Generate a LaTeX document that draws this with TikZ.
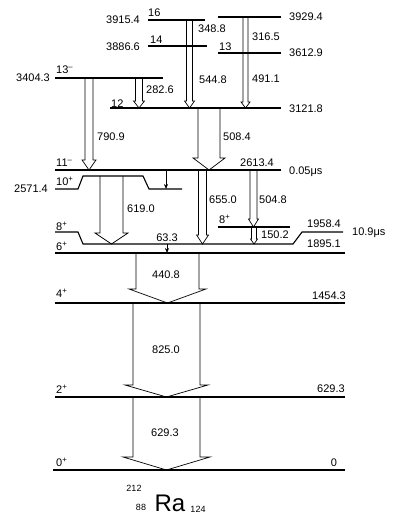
\documentclass[tikz,border=0pt]{standalone}
\usepackage{fontspec}
\setmainfont{Liberation Sans}
\usetikzlibrary{arrows.meta}
\tikzset{
  lev/.style={line width=1.1pt, line join=miter},
  garrow/.style={line width=0.7pt, line join=miter},
  lbl/.style={inner sep=0pt, font=\fontsize{11}{12}\selectfont},
}
\newcommand{\gamarrow}[6]{%
  \draw[garrow] ({#1-#4},#2) -- ({#1-#4},{#3-#6}) -- ({#1-#4-#5},{#3-#6}) -- (#1,#3)
    -- ({#1+#4+#5},{#3-#6}) -- ({#1+#4},{#3-#6}) -- ({#1+#4},#2);}
\begin{document}
\begin{tikzpicture}[x=1pt,y=-1pt]
\useasboundingbox (0,0) rectangle (392,518);
% levels
\draw[lev] (218,17) -- (281,17);
\draw[lev] (148,20) -- (205,20);
\draw[lev] (148,46) -- (207,46);
\draw[lev] (218,53) -- (281,53);
\draw[lev] (55,78) -- (163,78);
\draw[lev] (110,108) -- (281,108);
\draw[lev] (55,170) -- (281,170);
\draw[lev] (55,189) -- (78,189) -- (83,176) -- (143,176) -- (149,189) -- (182,189);
\draw[lev] (55,232) -- (78,232) -- (83,244) -- (293,244) -- (302,232) -- (343,232);
\draw[lev] (218,227) -- (290,227);
\draw[lev] (55,253) -- (345,253);
\draw[lev] (55,303) -- (345,303);
\draw[lev] (55,397) -- (345,397);
\draw[lev] (53,470) -- (345,470);
% transitions
\gamarrow{189.5}{20}{108}{3}{2}{7}
\gamarrow{245.5}{17}{108}{2.5}{2}{6}
\gamarrow{139}{78}{108}{3.5}{2}{7}
\gamarrow{89}{78}{170}{4}{3}{10}
\gamarrow{209}{108}{170}{11}{5}{12}
\gamarrow{111.5}{176}{244}{11.5}{5}{11}
\gamarrow{202.5}{170}{244}{4}{2}{9}
\gamarrow{253.5}{170}{227}{3.5}{1.5}{8}
\gamarrow{254}{227}{244}{2.5}{1}{5}
\gamarrow{167.5}{253}{303}{31.5}{7}{14}
\gamarrow{166.5}{303}{397}{33.5}{8}{12}
\gamarrow{166.5}{397}{470}{33.5}{10}{13}
\coordinate (t11) at (166,170);
\coordinate (b10) at (166,189);
\draw[line width=0.7pt,-{Stealth[length=5pt,width=4pt]}] (t11) -- (b10);
\coordinate (t8) at (167,244);
\coordinate (b6) at (167,253);
\draw[line width=0.7pt,-{Stealth[length=5pt,width=4pt]}] (t8) -- (b6);
% transition labels
\node[lbl,anchor=west] (g1) at (198,29) {348.8};
\node[lbl,anchor=west] (g2) at (199,80) {544.8};
\node[lbl,anchor=west] (g3) at (252,37) {316.5};
\node[lbl,anchor=west] (g4) at (252,79) {491.1};
\node[lbl,anchor=west] (g5) at (146,90) {282.6};
\node[lbl,anchor=west] (g6) at (97,137) {790.9};
\node[lbl,anchor=west] (g7) at (223,137) {508.4};
\node[lbl,anchor=west] (g8) at (127,209) {619.0};
\node[lbl,anchor=west] (g9) at (209,200) {655.0};
\node[lbl,anchor=west] (g10) at (259,200) {504.8};
\node[lbl,anchor=west] (g11) at (261,235) {150.2};
\node[lbl] (g12) at (167,238) {63.3};
\node[lbl] (g13) at (166,275) {440.8};
\node[lbl] (g14) at (166,350) {825.0};
\node[lbl] (g15) at (165,433) {629.3};
% energy labels
\node[lbl,anchor=west] (e1) at (289,17) {3929.4};
\node[lbl,anchor=west] (e2) at (289,53) {3612.9};
\node[lbl,anchor=west] (e3) at (289,109) {3121.8};
\node[lbl,anchor=east] (e4) at (140,20) {3915.4};
\node[lbl,anchor=east] (e5) at (140,47) {3886.6};
\node[lbl,anchor=east] (e6) at (50,78) {3404.3};
\node[lbl,anchor=east] (e7) at (48,189) {2571.4};
\node[lbl] (e8) at (257,163) {2613.4};
\node[lbl,anchor=west] (e9) at (289,172) {0.05μs};
\node[lbl] (e10) at (324,224) {1958.4};
\node[lbl] (e11) at (324,244) {1895.1};
\node[lbl,anchor=west] (e12) at (352,233) {10.9μs};
\node[lbl] (e13) at (329,296) {1454.3};
\node[lbl] (e14) at (331,389) {629.3};
\node[lbl] (e15) at (334,463) {0};
% spin labels
\node[lbl,anchor=west] (s1) at (148,13) {16};
\node[lbl,anchor=west] (s2) at (150,40) {14};
\node[lbl,anchor=west] (s3) at (219,47) {13};
\node[lbl,anchor=west] (s4) at (56,70) {13\textsuperscript{–}};
\node[lbl,anchor=west] (s5) at (111,104) {12};
\node[lbl,anchor=west] (s6) at (56,163) {11\textsuperscript{–}};
\node[lbl,anchor=west] (s7) at (56,181) {10\textsuperscript{+}};
\node[lbl,anchor=west] (s8) at (56,226) {8\textsuperscript{+}};
\node[lbl,anchor=west] (s9) at (56,246) {6\textsuperscript{+}};
\node[lbl,anchor=west] (s10) at (219,219) {8\textsuperscript{+}};
\node[lbl,anchor=west] (s11) at (56,293) {4\textsuperscript{+}};
\node[lbl,anchor=west] (s12) at (56,389) {2\textsuperscript{+}};
\node[lbl,anchor=west] (s13) at (56,462) {0\textsuperscript{+}};
% nucleus
\node[inner sep=0pt,anchor=base,font=\fontsize{24}{26}\selectfont] (ra) at (170,511) {Ra};
\node[inner sep=0pt,font=\fontsize{9}{10}\selectfont] (mass) at (134,488) {212};
\node[inner sep=0pt,font=\fontsize{9}{10}\selectfont] (zz) at (141,507) {88};
\node[inner sep=0pt,font=\fontsize{9}{10}\selectfont] (nn) at (198,509) {124};
\end{tikzpicture}
\end{document}
